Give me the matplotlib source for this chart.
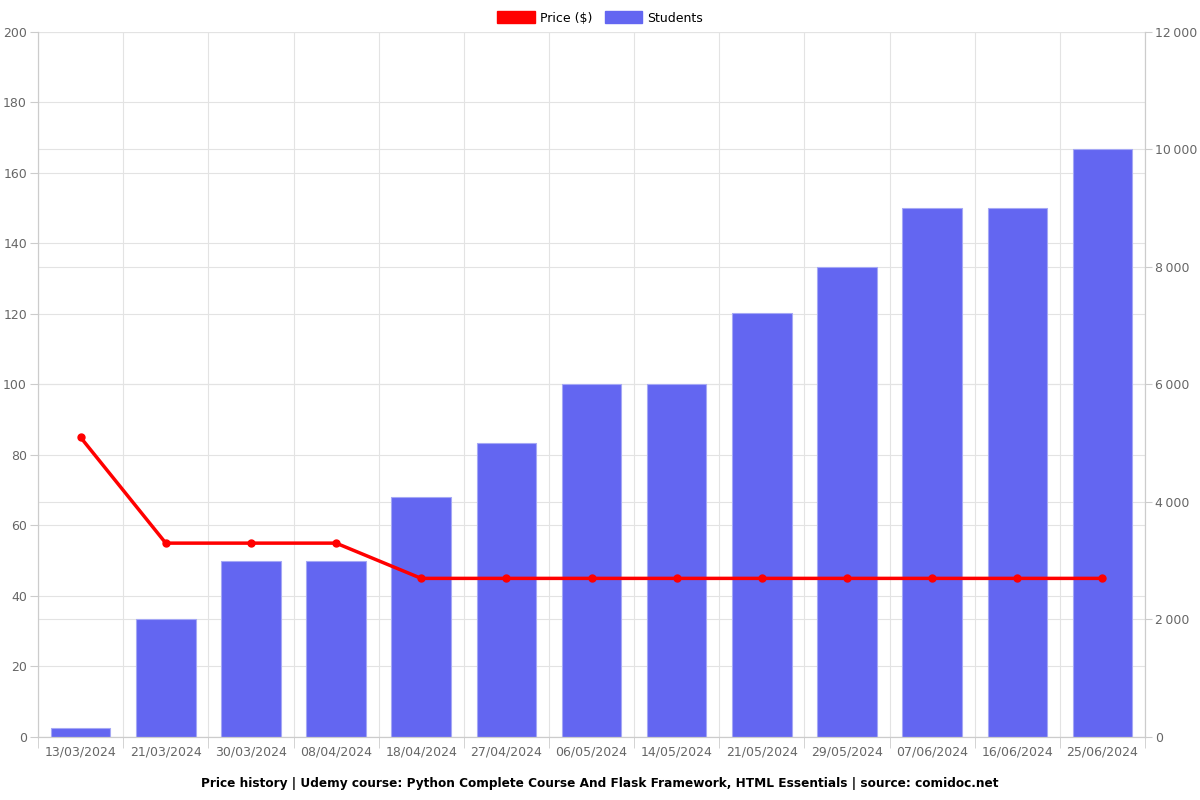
import matplotlib.pyplot as plt
import matplotlib.ticker as mticker
import matplotlib.patches as mpatches
from matplotlib.transforms import blended_transform_factory

dates = ["13/03/2024", "21/03/2024", "30/03/2024", "08/04/2024", "18/04/2024",
         "27/04/2024", "06/05/2024", "14/05/2024", "21/05/2024", "29/05/2024",
         "07/06/2024", "16/06/2024", "25/06/2024"]
price = [84.99, 54.99, 54.99, 54.99, 44.99, 44.99, 44.99, 44.99, 44.99, 44.99,
         44.99, 44.99, 44.99]
students = [160, 2000, 2990, 2990, 4090, 5000, 6000, 6010, 7220, 8000, 9000,
            9000, 10000]
price_ticks = list(range(0, 201, 20))
student_ticks = list(range(0, 12001, 2000))

plt.rcParams['font.family'] = ['DejaVu Sans']
fig = plt.figure(figsize=(12, 8), dpi=100)
ax = fig.add_axes([0.0317, 0.0788, 0.9225, 0.8812])
ax2 = ax.twinx()

gcol = '#e3e3e3'
x = list(range(len(dates)))

# grid lines for both axes, kept under the bars
trans = blended_transform_factory(ax2.transAxes, ax.transData)
for v in price_ticks:
    ax2.plot([0, 1], [v, v], transform=trans, color=gcol, linewidth=0.8,
             zorder=0)
for v in student_ticks:
    ax2.axhline(v, color=gcol, linewidth=0.8, zorder=0)
for i in range(len(dates) + 1):
    ax2.axvline(i - 0.5, color=gcol, linewidth=0.8, zorder=0)

ax2.bar(x, students, width=0.7, color='#6366f1', edgecolor='#a5a8f5',
        linewidth=0.8, zorder=2)
ax.plot(x, price, color='#ff0000', linewidth=2.5, marker='o', markersize=5,
        zorder=5)

ax.set_zorder(ax2.get_zorder() + 1)
ax.patch.set_visible(False)

ax.set_xlim(-0.5, len(dates) - 0.5)
ax.set_ylim(0, 200)
ax2.set_ylim(0, 12000)
ax.set_yticks(price_ticks)
ax2.set_yticks(student_ticks)
ax2.yaxis.set_major_formatter(mticker.FuncFormatter(
    lambda v, p: f"{int(v):,}".replace(",", "\u2009")))

ax.set_xticks(x)
ax.set_xticklabels(dates)
ax.set_xticks([i - 0.5 for i in range(len(dates) + 1)], minor=True)
ax.tick_params(axis='x', which='major', length=0, pad=6)
ax.tick_params(axis='x', which='minor', length=8, color='#cccccc')

for a in (ax, ax2):
    a.tick_params(labelsize=9, labelcolor='#666666', color='#cccccc')
    for s in a.spines.values():
        s.set_color('#cccccc')
    a.spines['top'].set_visible(False)
ax.tick_params(axis='y', length=6, pad=2)
ax2.tick_params(axis='y', length=5, pad=2)

handles = [mpatches.Patch(color='#ff0000', label='Price ($)'),
           mpatches.Patch(color='#6366f1', label='Students')]
fig.legend(handles=handles, loc='upper center', bbox_to_anchor=(0.5, 1.0),
           ncol=2, frameon=False, fontsize=9, handlelength=3,
           handleheight=1.1, columnspacing=1.0, handletextpad=0.4)

fig.text(0.5, 0.021, "Price history | Udemy course: Python Complete Course And Flask Framework, HTML Essentials | source: comidoc.net",
         ha='center', va='center', fontsize=8.7, fontweight='bold')

fig.savefig('out.png', dpi=100)
